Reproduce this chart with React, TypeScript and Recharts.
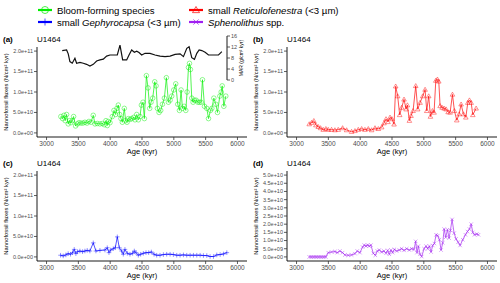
// Nannofossil flux panels (U1464) - Recharts
import { LineChart, Line, XAxis, YAxis } from 'recharts';

const FONT = '"Liberation Sans", Arial, sans-serif';

const GREEN = '#00ee00';
const RED = '#ff0000';
const BLUE = '#0000ff';
const PURPLE = '#a020f0';

// age axis
const X_MIN = 2850;
const X_MAX = 6150;
const INSET_END = X_MIN + ((X_MAX - X_MIN) * 190) / 210;
const ageTicks = [3000, 3500, 4000, 4500, 5000, 5500, 6000];
const fluxTicks = [0, 5e10, 1e11, 1.5e11, 2e11];
const sphenoTicks = [0, 5e9, 1e10, 1.5e10, 2e10, 2.5e10, 3e10, 3.5e10, 4e10, 4.5e10, 5e10];
const marTicks = [0, 4, 8, 12, 16];

// Bloom-forming species (flux in 1e10 N/cm2 kyr)
const bloomAge = [3225, 3252, 3273, 3294, 3315, 3341, 3362, 3383, 3404, 3425, 3456, 3483, 3509, 3540, 3572, 3603, 3635, 3666, 3698, 3734, 3761, 3797, 3839, 3876, 3908, 3934, 3955, 3971, 3997, 4033, 4060, 4086, 4107, 4128, 4149, 4170, 4191, 4222, 4243, 4264, 4285, 4312, 4338, 4369, 4390, 4417, 4443, 4469, 4490, 4516, 4537, 4569, 4595, 4621, 4642, 4668, 4700, 4721, 4742, 4768, 4794, 4821, 4852, 4883, 4915, 4941, 4967, 4999, 5030, 5062, 5088, 5114, 5135, 5162, 5188, 5209, 5230, 5246, 5261, 5282, 5303, 5324, 5350, 5377, 5403, 5429, 5450, 5482, 5518, 5545, 5576, 5597, 5629, 5660, 5686, 5723, 5744, 5760, 5786, 5817];
const bloomFlux = [4.0, 3.5, 4.3, 3.0, 4.5, 2.2, 3.0, 2.5, 3.0, 4.0, 1.7, 2.2, 2.5, 2.4, 2.4, 2.6, 2.4, 2.8, 2.6, 4.3, 2.2, 2.3, 2.2, 2.3, 2.0, 3.0, 1.8, 2.8, 2.5, 4.0, 5.5, 4.5, 6.0, 6.8, 4.5, 3.5, 2.6, 6.0, 3.0, 2.6, 3.5, 3.3, 3.5, 3.8, 3.2, 4.5, 3.2, 4.0, 6.8, 7.5, 3.5, 14.0, 11.0, 6.0, 7.5, 8.5, 12.5, 11.5, 6.0, 5.0, 5.5, 7.0, 8.5, 13.5, 7.5, 8.0, 9.0, 10.5, 12.0, 7.0, 5.5, 10.5, 6.0, 6.5, 5.5, 10.0, 16.0, 17.0, 15.5, 8.5, 7.5, 8.0, 8.0, 7.5, 7.5, 7.5, 13.0, 6.5, 6.0, 3.5, 5.5, 6.0, 8.5, 7.0, 5.0, 9.0, 10.0, 11.5, 6.5, 9.0];

// MAR (g/cm2 kyr)
const marAge = [3246, 3315, 3341, 3367, 3404, 3446, 3472, 3525, 3577, 3629, 3682, 3734, 3787, 3839, 3892, 3944, 3997, 4075, 4112, 4154, 4196, 4259, 4296, 4338, 4380, 4417, 4453, 4495, 4548, 4626, 4705, 4784, 4862, 4941, 5020, 5099, 5151, 5204, 5240, 5282, 5324, 5361, 5398, 5440, 5492, 5545, 5623, 5702, 5755];
const marValue = [10.7, 10.9, 9.5, 6.7, 6.1, 7.9, 6.1, 6.4, 6.1, 5.7, 5.1, 5.7, 6.9, 7.3, 7.6, 8.7, 9.1, 9.1, 9.1, 12.7, 7.3, 7.3, 9.1, 10.9, 10.1, 10.5, 10.0, 9.1, 9.7, 9.7, 9.1, 8.7, 8.5, 8.7, 9.3, 9.5, 8.5, 11.5, 12.1, 8.1, 7.5, 9.7, 10.9, 10.7, 10.1, 9.1, 9.1, 9.1, 10.3];

// small Reticulofenestra
const retiAge = [3199, 3236, 3272, 3304, 3341, 3377, 3419, 3461, 3498, 3550, 3603, 3655, 3724, 3787, 3865, 3918, 3970, 4023, 4075, 4128, 4180, 4233, 4285, 4338, 4374, 4406, 4437, 4469, 4500, 4532, 4558, 4589, 4621, 4652, 4689, 4721, 4742, 4773, 4799, 4831, 4873, 4904, 4941, 4983, 5020, 5046, 5077, 5104, 5135, 5161, 5188, 5214, 5235, 5256, 5287, 5319, 5350, 5382, 5413, 5450, 5481, 5518, 5555, 5586, 5623, 5660, 5691, 5717, 5744, 5770, 5822];
const retiFlux = [2.16, 2.5, 2.96, 1.9, 1.5, 1.2, 0.8, 1.0, 0.8, 0.8, 0.7, 0.8, 1.2, 0.7, 0.3, 0.5, 0.8, 1.0, 0.8, 1.0, 0.7, 1.2, 1.0, 1.4, 2.4, 3.4, 2.7, 3.8, 3.4, 2.1, 11.4, 9.0, 4.4, 6.2, 8.2, 5.8, 6.8, 3.0, 4.2, 5.4, 11.5, 5.8, 7.4, 9.0, 10.6, 5.4, 9.0, 4.0, 5.4, 5.0, 12.8, 13.1, 12.6, 6.6, 6.2, 6.0, 5.8, 5.1, 5.0, 9.4, 5.4, 3.1, 4.6, 7.0, 4.6, 3.8, 7.4, 8.0, 7.4, 4.4, 6.0];

// small Gephyrocapsa
const gephAge = [3220, 3262, 3304, 3340, 3377, 3409, 3435, 3461, 3487, 3524, 3566, 3603, 3639, 3681, 3734, 3776, 3839, 3918, 3954, 3981, 4007, 4049, 4080, 4112, 4143, 4180, 4206, 4232, 4269, 4311, 4353, 4379, 4406, 4442, 4479, 4521, 4563, 4605, 4647, 4689, 4731, 4783, 4836, 4888, 4941, 4993, 5046, 5098, 5151, 5203, 5256, 5308, 5361, 5413, 5465, 5518, 5570, 5623, 5675, 5728, 5780, 5833];
const gephFlux = [0.41, 0.25, 0.49, 0.8, 0.65, 1.04, 1.84, 0.8, 1.28, 1.44, 1.28, 1.44, 1.6, 1.44, 3.43, 1.44, 1.6, 1.68, 2.24, 1.04, 1.68, 2.0, 2.24, 4.9, 2.24, 1.44, 0.65, 1.84, 0.88, 0.65, 0.88, 1.44, 1.04, 0.41, 0.65, 0.88, 1.04, 1.04, 1.2, 0.65, 0.41, 0.41, 0.57, 0.65, 0.65, 0.57, 0.41, 0.41, 0.49, 0.41, 0.41, 0.41, 0.41, 0.41, 0.33, 0.33, 0.1, 0.1, 0.49, 0.57, 0.72, 1.04];

// Sphenolithus spp.
const sphenoAge = [3199, 3225, 3251, 3277, 3304, 3330, 3356, 3382, 3409, 3435, 3461, 3498, 3550, 3603, 3639, 3681, 3723, 3760, 3813, 3865, 3918, 3954, 3996, 4038, 4064, 4091, 4117, 4143, 4169, 4206, 4238, 4269, 4301, 4337, 4374, 4406, 4432, 4458, 4484, 4511, 4537, 4573, 4615, 4652, 4689, 4731, 4773, 4810, 4846, 4872, 4893, 4914, 4941, 4967, 5004, 5035, 5061, 5088, 5114, 5140, 5166, 5193, 5219, 5245, 5271, 5298, 5319, 5345, 5371, 5397, 5418, 5444, 5476, 5507, 5539, 5570, 5612, 5654, 5686, 5717, 5744, 5770, 5796, 5833, 5859];
const sphenoFlux = [0, 0, 0, 0, 0, 0, 0, 0, 0, 0, 0, 0.26, 0.3, 0.33, 0.26, 0.36, 0.26, 0.12, 0.1, 0.12, 0.2, 0.36, 0.26, 0.6, 0.72, 0.66, 0.72, 0.66, 0.72, 0.22, 0.1, 0.36, 0.42, 0.3, 0.36, 0.22, 0.4, 0.16, 0.42, 0.26, 0.46, 0.36, 0.42, 0.5, 0.4, 0.5, 0.42, 0.5, 0.46, 0.95, 0.26, 0.66, 0.16, 0.02, 0.5, 0.66, 0.5, 0.66, 0.3, 0.7, 0.82, 1.35, 1.3, 1.05, 0.42, 0.86, 1.7, 1.2, 1.66, 1.15, 1.62, 2.29, 1.45, 1.1, 0.9, 0.7, 1.05, 1.35, 1.55, 1.7, 2.0, 1.5, 1.35, 1.4, 1.35];

const toData = (ages: number[], vals: number[]) => ages.map((age, i) => ({ age, flux: vals[i] * 1e10 }));
const marData = marAge.map((age, i) => ({ age, mar: marValue[i] }));

const sci = (v: number) => {
    if (v === 0) return '0.0e+00';
    const [m, e] = v.toExponential(1).split('e');
    const n = parseInt(e, 10);
    return `${m}e${n < 0 ? '-' : '+'}${String(Math.abs(n)).padStart(2, '0')}`;
};

type Shape = 'circle' | 'triangle' | 'plus' | 'cross';

function Marker({ cx, cy, shape, color, size, opacity = 0.55, width = 0.8 }: {
    cx?: number | null; cy?: number | null; shape: Shape; color: string; size: number; opacity?: number; width?: number;
}) {
    if (cx == null || cy == null) return null;
    const h = size / 2;
    const common = { stroke: color, strokeOpacity: opacity, strokeWidth: width, fill: 'none' };
    if (shape === 'circle') return <circle cx={cx} cy={cy} r={h} {...common} />;
    if (shape === 'triangle') {
        return <polygon points={`${cx},${cy - h} ${cx + h},${cy + h * 0.75} ${cx - h},${cy + h * 0.75}`} {...common} />;
    }
    if (shape === 'plus') {
        return <path d={`M${cx - h},${cy}H${cx + h}M${cx},${cy - h}V${cy + h}`} {...common} />;
    }
    const d = h * 0.75;
    return <path d={`M${cx - d},${cy - d}L${cx + d},${cy + d}M${cx - d},${cy + d}L${cx + d},${cy - d}`} {...common} />;
}

interface PanelProps {
    left: number;
    top: number;
    data: { age: number; flux: number }[];
    color: string;
    shape: Shape;
    yDomain: [number, number];
    yTicks: number[];
}

const axisLine = { stroke: '#000', strokeWidth: 0.9 };
const tickLine = { stroke: '#333', strokeWidth: 0.8 };

function Panel({ left, top, data, color, shape, yDomain, yTicks }: PanelProps) {
    return (
        <div style={{ position: 'absolute', left, top }}>
            <LineChart width={250} height={127} data={data} margin={{ top: 17, right: 3, bottom: 0, left: 0 }}>
                <XAxis
                    dataKey="age"
                    type="number"
                    domain={[X_MIN, X_MAX]}
                    ticks={ageTicks}
                    interval={0}
                    height={20}
                    tickSize={3}
                    tickMargin={1}
                    axisLine={axisLine}
                    tickLine={tickLine}
                    tick={{ fontSize: 6.5, fill: '#4d4d4d' }}
                    label={{ value: 'Age (kyr)', position: 'insideBottom', offset: 3, style: { fontSize: 7.5, fill: '#000' } }}
                />
                <YAxis
                    type="number"
                    domain={yDomain}
                    ticks={yTicks}
                    interval={0}
                    width={37}
                    tickSize={3}
                    tickMargin={1}
                    tickFormatter={sci}
                    axisLine={axisLine}
                    tickLine={tickLine}
                    tick={{ fontSize: 5.5, fill: '#4d4d4d' }}
                    label={{
                        value: 'Nannofossil fluxes (N/cm² kyr)',
                        angle: -90,
                        position: 'insideLeft',
                        offset: 6,
                        style: { textAnchor: 'middle', fontSize: 5.8, fill: '#000' },
                    }}
                />
                <Line
                    dataKey="flux"
                    stroke={color}
                    strokeWidth={0.8}
                    strokeOpacity={0.85}
                    dot={(p: any) => <Marker key={`m-${p.index}`} cx={p.cx} cy={p.cy} shape={shape} color={color} size={4.6} />}
                    activeDot={false}
                    isAnimationActive={false}
                />
            </LineChart>
        </div>
    );
}

function MarInset() {
    return (
        <div style={{ position: 'absolute', left: 0, top: 30 }}>
            <LineChart width={250} height={60} data={marData} margin={{ top: 6, right: 0, bottom: 10, left: 37 }}>
                <XAxis dataKey="age" type="number" domain={[X_MIN, INSET_END]} hide />
                <YAxis
                    orientation="right"
                    type="number"
                    domain={[0, 16]}
                    ticks={marTicks}
                    interval={0}
                    width={23}
                    tickSize={3}
                    tickMargin={1}
                    axisLine={axisLine}
                    tickLine={tickLine}
                    tick={{ fontSize: 5.5, fill: '#4d4d4d' }}
                    label={{
                        value: 'MAR (g/cm² kyr)',
                        angle: -90,
                        position: 'insideRight',
                        offset: 9,
                        style: { textAnchor: 'middle', fontSize: 5, fill: '#000' },
                    }}
                />
                <Line dataKey="mar" stroke="#111" strokeWidth={1.2} dot={false} activeDot={false} isAnimationActive={false} />
            </LineChart>
        </div>
    );
}

const legendItems: { x: number; y: number; color: string; shape: Shape; label: React.ReactNode }[] = [
    { x: 38, y: 10, color: GREEN, shape: 'circle', label: <>Bloom-forming species</> },
    { x: 189, y: 10, color: RED, shape: 'triangle', label: <>small <tspan fontStyle="italic">Reticulofenestra</tspan> (&lt;3 µm)</> },
    { x: 38, y: 22, color: BLUE, shape: 'plus', label: <>small <tspan fontStyle="italic">Gephyrocapsa</tspan> (&lt;3 µm)</> },
    { x: 189, y: 22, color: PURPLE, shape: 'cross', label: <><tspan fontStyle="italic">Sphenolithus</tspan> spp.</> },
];

const panelTags = [
    { tag: '(a)', left: 0, top: 30 },
    { tag: '(b)', left: 250, top: 30 },
    { tag: '(c)', left: 0, top: 154 },
    { tag: '(d)', left: 250, top: 154 },
];

export default function App() {
    return (
        <div style={{ position: 'absolute', left: 0, top: 0, width: 500, height: 283, background: '#fff', fontFamily: FONT }}>
            <Panel left={0} top={30} data={toData(bloomAge, bloomFlux)} color={GREEN} shape="circle" yDomain={[-1e10, 2.1e11]} yTicks={fluxTicks} />
            <MarInset />
            <Panel left={250} top={30} data={toData(retiAge, retiFlux)} color={RED} shape="triangle" yDomain={[-1e10, 2.1e11]} yTicks={fluxTicks} />
            <Panel left={0} top={154} data={toData(gephAge, gephFlux)} color={BLUE} shape="plus" yDomain={[-1e10, 2.1e11]} yTicks={fluxTicks} />
            <Panel left={250} top={154} data={toData(sphenoAge, sphenoFlux)} color={PURPLE} shape="cross" yDomain={[-2.5e9, 5.25e10]} yTicks={sphenoTicks} />
            <svg width={500} height={283} style={{ position: 'absolute', left: 0, top: 0, pointerEvents: 'none' }}>
                {legendItems.map((it, i) => (
                    <g key={i}>
                        <line x1={it.x} x2={it.x + 14} y1={it.y} y2={it.y} stroke={it.color} strokeWidth={2.2} />
                        <Marker cx={it.x + 7} cy={it.y} shape={it.shape} color={it.color} size={7} opacity={0.7} width={1} />
                        <text x={it.x + 19} y={it.y} dominantBaseline="central" fontSize={9.6} fill="#000">{it.label}</text>
                    </g>
                ))}
                {panelTags.map((p) => (
                    <g key={p.tag}>
                        <text x={p.left + 3} y={p.top + 9} dominantBaseline="central" fontSize={8} fontWeight="bold">{p.tag}</text>
                        <text x={p.left + 37} y={p.top + 9} dominantBaseline="central" fontSize={8}>U1464</text>
                    </g>
                ))}
            </svg>
        </div>
    );
}
